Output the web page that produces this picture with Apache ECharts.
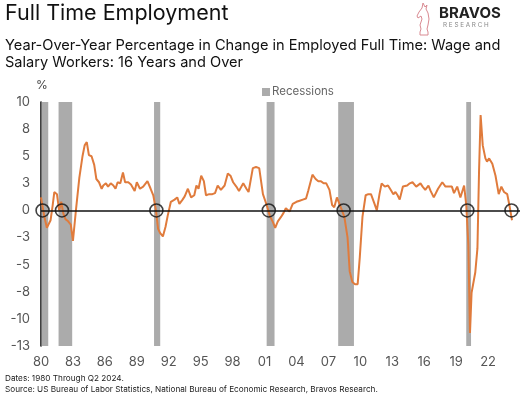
<!DOCTYPE html>
<html>
<head>
<meta charset="utf-8">
<script src="https://cdn.jsdelivr.net/npm/echarts@6/dist/echarts.min.js"></script>
<style>
html,body{margin:0;padding:0;background:#fff;}
#chart{width:523px;height:396px;}
</style>
</head>
<body>
<div id="chart"></div>
<script>
// ---- Data ----
const years = [
1980.0,1980.3,1980.55,1980.7,1980.9,1981.1,1981.25,1981.5,1981.7,1981.9,
1982.1,1982.3,1982.55,1982.8,1983.0,1983.3,1983.6,1983.9,1984.1,1984.3,
1984.5,1984.75,1985.0,1985.2,1985.45,1985.7,1985.85,1986.1,1986.3,1986.55,
1986.8,1987.0,1987.2,1987.45,1987.7,1987.9,1988.2,1988.45,1988.8,1989.0,
1989.3,1989.6,1990.0,1990.3,1990.55,1990.8,1991.0,1991.2,1991.45,1991.7,
1991.9,1992.2,1992.55,1992.8,1993.0,1993.3,1993.5,1993.8,1994.1,1994.4,
1994.6,1994.8,1995.05,1995.3,1995.5,1995.8,1996.1,1996.35,1996.6,1996.9,
1997.25,1997.55,1997.8,1998.05,1998.35,1998.6,1999.0,1999.3,1999.5,1999.9,
2000.2,2000.5,2000.85,2001.2,2001.5,2001.8,2002.0,2002.25,2002.55,2002.8,
2003.0,2003.35,2003.65,2004.0,2004.3,2004.6,2004.9,2005.1,2005.5,2005.8,
2006.05,2006.3,2006.55,2006.8,2007.1,2007.35,2007.55,2007.8,2008.2,2008.5,
2008.8,2009.0,2009.25,2009.5,2009.75,2009.95,2010.2,2010.5,2010.75,2011.0,
2011.3,2011.55,2011.8,2012.0,2012.3,2012.6,2012.85,2013.1,2013.3,2013.5,
2013.7,2014.0,2014.4,2014.65,2014.9,2015.25,2015.65,2015.85,2016.1,2016.4,
2016.6,2016.9,2017.3,2017.7,2018.0,2018.3,2018.6,2018.8,2019.1,2019.4,
2019.75,2019.95,2020.15,2020.3,2020.45,2020.8,2021.0,2021.15,2021.3,2021.5,
2021.75,2021.9,2022.1,2022.4,2022.7,2023.0,2023.25,2023.5,2023.8,2024.0,
2024.25
];
const values = [
1.2,-0.5,-1.6,-1.7,-0.9,0.5,1.7,1.5,0.0,0.8,
-0.3,-0.8,-1.0,-1.3,-2.8,0.2,3.0,5.0,6.0,6.3,
5.1,5.0,4.2,2.9,2.6,2.0,2.3,2.5,2.2,2.5,
2.3,2.0,2.6,2.5,3.5,2.6,2.6,2.4,1.8,2.6,
2.0,2.2,2.7,2.0,1.4,0.0,-1.7,-2.1,-2.4,-1.5,
-0.5,0.8,1.0,1.2,0.6,1.0,1.3,2.0,1.2,1.4,
2.3,2.0,3.2,2.7,1.4,1.5,1.5,1.6,2.3,1.9,
2.3,3.4,3.2,2.6,2.2,1.8,2.5,2.0,1.7,3.9,
4.0,3.9,1.5,0.5,-0.5,-1.1,-1.6,-1.0,-0.6,-0.2,
0.2,-0.1,0.6,0.8,0.9,1.0,1.1,1.8,3.3,2.9,
2.7,2.7,2.5,2.5,1.9,0.5,0.3,1.2,0.2,-0.6,
-2.5,-5.6,-6.6,-6.8,-6.8,-4.3,-0.6,1.4,1.5,1.5,
0.7,0.0,1.5,2.5,2.2,2.3,1.9,1.5,1.7,1.4,
1.0,2.2,2.3,2.5,2.6,2.2,2.5,2.2,1.9,2.3,
1.8,1.2,2.0,2.6,2.2,2.2,2.2,1.6,2.2,1.2,
2.3,0.5,-3.2,-11.3,-7.6,-5.7,-3.5,3.5,8.8,6.0,
4.8,4.5,4.8,4.3,3.2,1.5,2.2,1.7,1.5,0.5,
-0.9
];
const recessionStart = [1980.05, 1981.65, 1990.62, 2001.2, 2007.92, 2019.95];
const recessionEnd   = [1980.68, 1982.93, 1991.2, 2001.94, 2009.4, 2020.4];
const crossings = [1980.15, 1981.97, 1990.84, 2001.4, 2008.43, 2020.05, 2024.2];
const yTicks = { min: -12.5, max: 10, interval: 2.5 };
const xTicks = { min: 1980, max: 2025, interval: 3 };

const FONT = 'Inter, "Noto Sans", sans-serif';
const chart = echarts.init(document.getElementById('chart'), null, {renderer: 'canvas'});

const lineData = years.map((y, i) => [y, values[i]]);
const recAreas = recessionStart.map((s, i) => [{xAxis: s}, {xAxis: recessionEnd[i]}]);
const circleData = crossings.map(x => [x, 0]);

const knight = [[4,34],[12,34],[12,31],[11,28],[12,24],[13,18],[12,12],[10,8],[11,4],[9,6],[7,2],[6,7],[3,11],[1,15],[2,17],[5,15],[6,18],[4,24],[5,28],[4,31],[4,34]];

chart.setOption({
  animation: false,
  backgroundColor: '#ffffff',
  grid: {left: 41, right: 2, top: 102, bottom: 50, containLabel: false},
  legend: {
    data: [{name: 'Recessions', icon: 'rect'}],
    left: 257, top: 81, itemWidth: 8, itemHeight: 8, itemGap: 2,
    textStyle: {color: '#666', fontSize: 11.5, fontFamily: FONT, padding: [0,0,0,-3]},
    selectedMode: false
  },
  xAxis: {
    type: 'value', min: xTicks.min, max: xTicks.max, interval: xTicks.interval,
    axisLine: {show: false}, axisTick: {show: false}, splitLine: {show: false},
    axisLabel: {
      color: '#555', fontSize: 13, fontFamily: FONT, margin: 10,
      formatter: v => (v >= xTicks.max ? '' : String(v % 100).padStart(2, '0'))
    }
  },
  yAxis: {
    type: 'value', min: yTicks.min, max: yTicks.max, interval: yTicks.interval,
    axisLine: {show: true, lineStyle: {color: '#000', width: 1.5}},
    axisTick: {show: false}, splitLine: {show: false},
    axisLabel: {
      color: '#555', fontSize: 13, fontFamily: FONT, margin: 11,
      formatter: v => String(Math.sign(v) * Math.round(Math.abs(v)))
    }
  },
  series: [
    {
      name: 'Recessions', type: 'line', data: [], z: 1,
      itemStyle: {color: '#ababab'}, lineStyle: {color: '#ababab'},
      markArea: {silent: true, itemStyle: {color: '#ababab'}, data: recAreas}
    },
    {
      name: 'YoY', type: 'line', data: lineData, showSymbol: false, symbol: 'none',
      lineStyle: {color: '#E07B3C', width: 2}, z: 3,
      markLine: {
        silent: true, symbol: 'none', label: {show: false},
        lineStyle: {color: '#111', width: 1.5, type: 'solid'},
        data: [{yAxis: 0}]
      }
    },
    {
      name: 'Crossings', type: 'scatter', data: circleData, symbol: 'circle', symbolSize: 13, z: 5,
      itemStyle: {color: 'rgba(0,0,0,0)', borderColor: '#111', borderWidth: 1.6}
    }
  ],
  graphic: [
    {type: 'text', x: 5, y: 3, style: {text: 'Full Time Employment', fill: '#111', font: '400 21.5px ' + FONT}},
    {type: 'text', x: 5, y: 37, style: {text: 'Year-Over-Year Percentage in Change in Employed Full Time: Wage and\nSalary Workers: 16 Years and Over', fill: '#111', font: '400 14.6px ' + FONT, lineHeight: 17}},
    {type: 'text', x: 36, y: 79, style: {text: '%', fill: '#444', font: '400 12px ' + FONT}},
    {type: 'text', x: 439, y: 6, style: {text: 'BRAVOS', fill: '#222', font: '700 15px ' + FONT}},
    {type: 'text', x: 443, y: 22, style: {text: 'R E S E A R C H', fill: '#888', font: '400 6.3px ' + FONT}},
    {type: 'polyline', x: 416, y: 1, shape: {points: knight}, style: {fill: 'none', stroke: '#d98a92', lineWidth: 1}},
    {type: 'text', x: 5, y: 375, style: {text: 'Dates: 1980 Through Q2 2024.', fill: '#222', font: '400 8.2px ' + FONT}},
    {type: 'text', x: 5, y: 386, style: {text: 'Source: US Bureau of Labor Statistics, National Bureau of Economic Research, Bravos Research.', fill: '#222', font: '400 8.2px ' + FONT}}
  ]
});
</script>
</body>
</html>
